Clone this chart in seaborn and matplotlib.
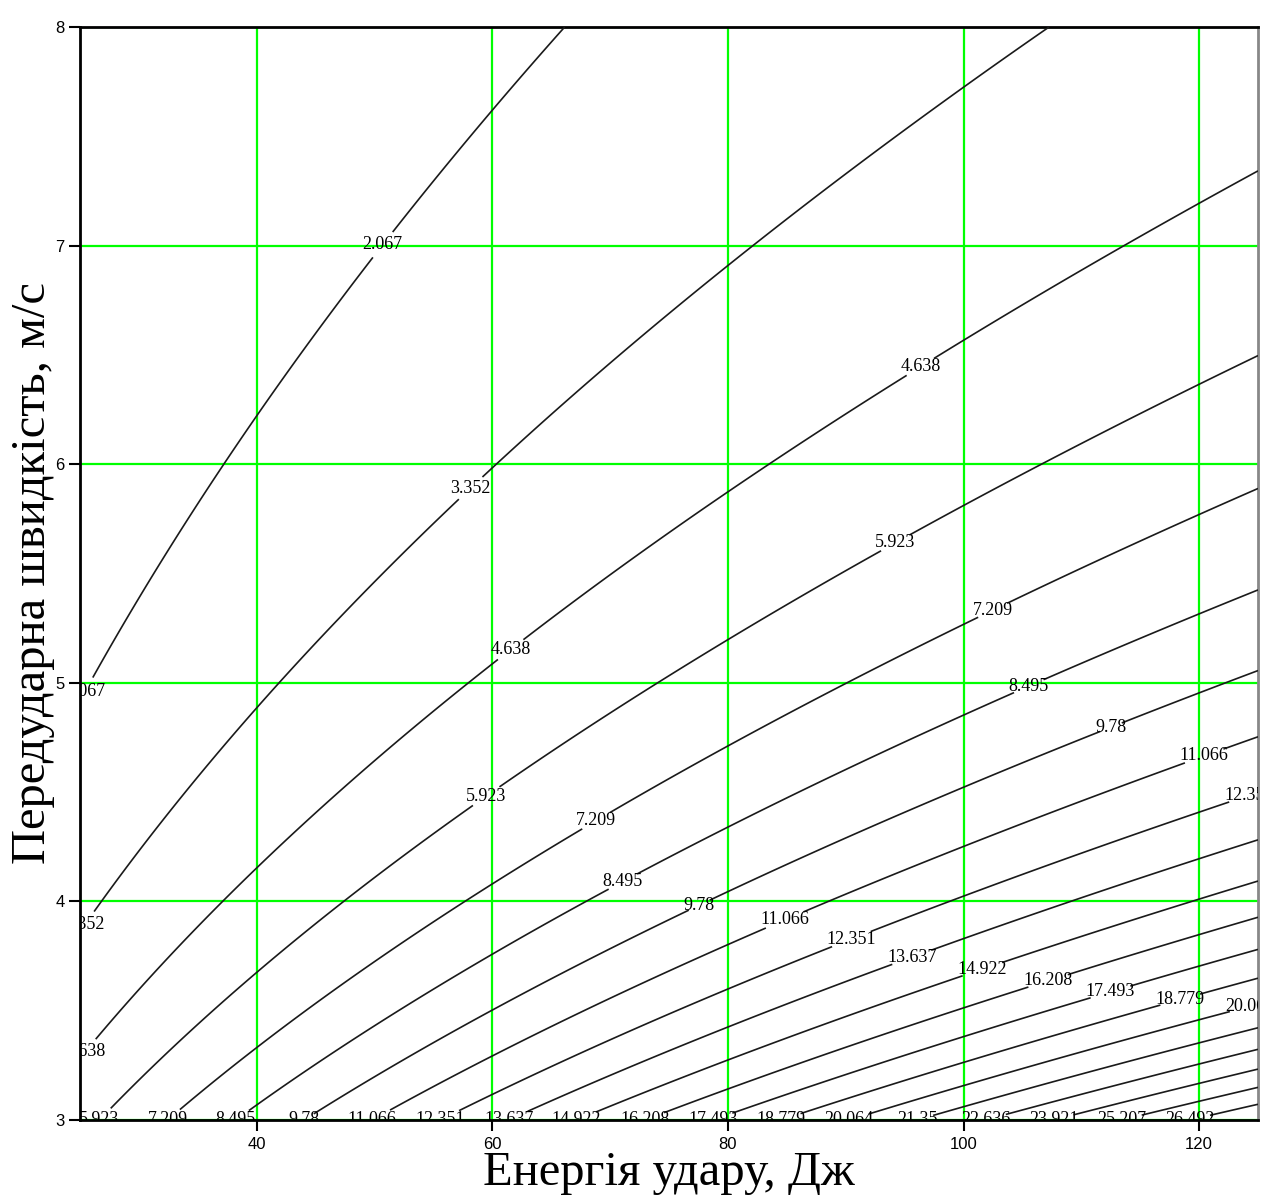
import numpy as np
import matplotlib
matplotlib.use("Agg")
import matplotlib.pyplot as plt
import seaborn as sns

# ---- data ----
energy_limits = [25, 125]        # J (x axis range)
velocity_limits = [3, 8]         # m/s (y axis range)
mass_levels = [2.067, 3.352, 4.638, 5.923, 7.209, 8.495, 9.78, 11.066,
               12.351, 13.637, 14.922, 16.208, 17.493, 18.779, 20.064,
               21.35, 22.636, 23.921, 25.207, 26.492]
x_ticks = [40, 60, 80, 100, 120]
y_ticks = [3, 4, 5, 6, 7, 8]
x_label = "Енергія удару, Дж"
y_label = "Передударна швидкість, м/с"

# label anchor points (E, v) as seen in the picture
label_points = [
    (50.8, 7.0), (58.0, 5.9), (61.3, 5.17), (96.4, 6.44),
    (59.5, 4.48), (94.2, 5.64), (68.8, 4.37), (102.4, 5.34),
    (70.6, 4.14), (105.5, 4.99), (77.5, 3.99), (112.5, 4.80),
    (84.7, 3.93), (120.4, 4.67), (90.4, 3.84), (124.2, 4.49),
    (95.5, 3.76), (101.6, 3.69), (107.1, 3.65), (112.4, 3.60),
    (118.4, 3.55), (124.3, 3.52),
    (25.75, 4.95), (25.75, 3.88), (25.75, 3.30),
    (26.65, 3.0), (32.44, 3.0), (38.2, 3.0), (44.0, 3.0), (49.8, 3.0),
    (55.6, 3.0), (61.4, 3.0), (67.1, 3.0), (72.9, 3.0), (78.7, 3.0),
    (84.5, 3.0), (90.3, 3.0), (96.1, 3.0), (101.9, 3.0), (107.6, 3.0),
    (113.4, 3.0), (119.2, 3.0),
]

sns.set_theme(style="white")
plt.rcParams['font.family'] = ['Liberation Serif', 'DejaVu Serif']
plt.rcParams['text.color'] = 'black'
plt.rcParams['axes.labelcolor'] = 'black'
plt.rcParams['xtick.color'] = 'black'
plt.rcParams['ytick.color'] = 'black'

# mass field m = 2E / v^2 (kinetic energy relation)
E = np.linspace(energy_limits[0], energy_limits[1], 500)
V = np.linspace(velocity_limits[0], velocity_limits[1], 500)
EE, VV = np.meshgrid(E, V)
M = 2.0 * EE / VV ** 2

fig = plt.figure(figsize=(12.62, 11.96), dpi=100)
ax = fig.add_axes([80 / 1262, 76 / 1196, 1178 / 1262, 1093 / 1196])

cs = ax.contour(EE, VV, M, levels=mass_levels, colors='#1a1a1a',
                linewidths=1.2, zorder=3)
texts = ax.clabel(cs, levels=mass_levels, manual=label_points, inline=True,
                  inline_spacing=-4, fontsize=13, fmt=lambda v: f"{v:g}",
                  colors='black')
for t in texts:
    t.set_rotation(0)
    t.set_clip_on(True)

ax.set_xlim(energy_limits)
ax.set_ylim(velocity_limits)
ax.set_xticks(x_ticks)
ax.set_yticks(y_ticks)
ax.grid(True, color='#00ff00', linewidth=1.6, zorder=1)
ax.set_axisbelow(True)

for side in ['left', 'bottom', 'top']:
    ax.spines[side].set_color('black')
    ax.spines[side].set_linewidth(2.0)
ax.spines['right'].set_color('#888888')
ax.spines['right'].set_linewidth(2.0)

ax.tick_params(axis='both', which='both', direction='out', length=8,
               width=1.5, color='black', bottom=True, left=True,
               labelsize=12, labelcolor='black')
ax.tick_params(axis='x', pad=4)
ax.tick_params(axis='y', pad=3)
for lab in ax.get_xticklabels() + ax.get_yticklabels():
    lab.set_fontfamily(['Liberation Sans', 'DejaVu Sans'])

ax.set_xlabel(x_label, fontsize=35, color='black')
ax.set_ylabel(y_label, fontsize=35, color='black')
ax.xaxis.set_label_coords(0.5, -0.0285)
ax.yaxis.set_label_coords(-0.021, 0.5)

fig.savefig("out.png", dpi=100)
